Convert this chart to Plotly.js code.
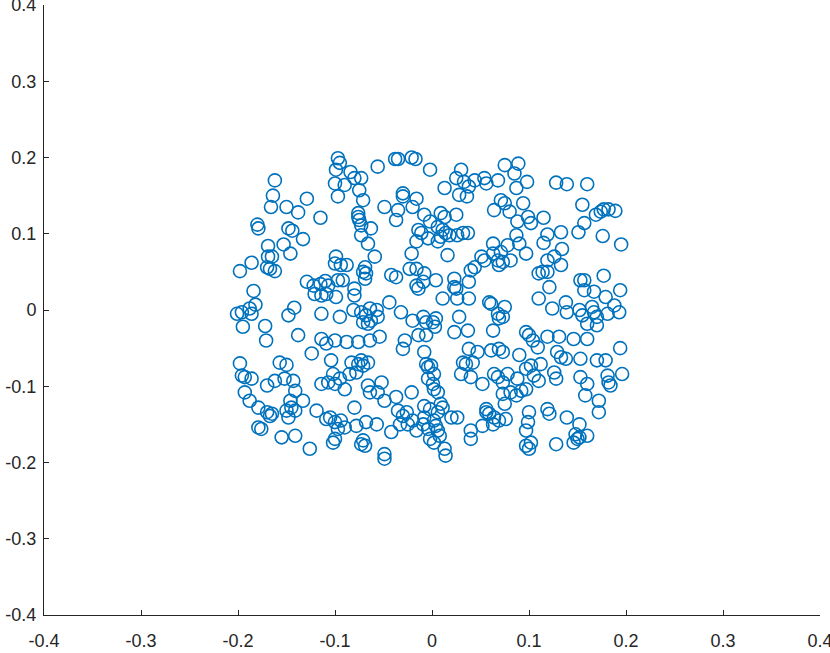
<!DOCTYPE html>
<html>
<head>
<meta charset="utf-8">
<script src="https://cdn.plot.ly/plotly-3.0.1.min.js"></script>
<style>html,body{margin:0;padding:0;background:#fff;}#chart{width:830px;height:653px;}</style>
</head>
<body>
<div id="chart"></div>
<script>
var xValues = [
-0.162,-0.164,-0.166,-0.150,-0.138,-0.129,-0.115,-0.180,-0.179,-0.148,-0.144,-0.133,-0.169,-0.153,
-0.097,-0.095,-0.099,-0.084,-0.100,-0.090,-0.080,-0.073,-0.075,-0.097,-0.071,-0.056,-0.038,-0.035,-0.021,-0.017,-0.002,-0.030,-0.030,-0.016,-0.049,-0.035,-0.020,-0.008,-0.037,-0.002,-0.076,-0.076,-0.075,-0.073,-0.063,-0.073,-0.066,-0.014,-0.011,-0.004,-0.016,
0.030,0.025,0.033,0.044,0.054,0.056,0.068,0.075,0.089,0.085,0.098,0.087,0.013,0.028,0.036,0.038,0.071,0.064,0.075,0.080,0.094,0.088,0.099,0.102,0.009,0.013,0.025,0.006,0.011,0.014,0.009,0.018,0.026,0.032,0.037,0.006,0.087,0.090,0.078,0.063,0.071,
0.128,0.139,0.160,0.155,0.169,0.174,0.177,0.182,0.189,0.115,0.157,0.119,0.133,0.151,0.115,0.176,0.195,0.134,
-0.198,-0.186,-0.169,-0.165,-0.170,-0.167,-0.162,-0.146,-0.184,-0.201,-0.196,-0.188,-0.182,-0.186,-0.195,-0.172,-0.171,-0.148,-0.142,-0.138,-0.114,-0.129,-0.122,-0.115,-0.110,-0.107,-0.121,-0.114,-0.109,-0.114,-0.124,-0.109,
-0.099,-0.094,-0.088,-0.100,-0.069,-0.068,-0.071,-0.069,-0.059,-0.042,-0.037,-0.021,-0.023,-0.016,-0.008,-0.009,-0.016,-0.014,-0.097,-0.092,-0.080,-0.080,-0.099,-0.095,-0.081,-0.073,-0.064,-0.057,-0.056,-0.068,-0.071,-0.063,-0.066,-0.044,-0.032,-0.020,-0.009,-0.006,-0.006,-0.014,0.003,-0.028,-0.030,-0.008,-0.100,-0.088,-0.076,-0.064,-0.054,
0.016,0.051,0.054,0.063,0.068,0.073,0.081,0.097,0.044,0.040,0.069,0.004,0.023,0.023,0.025,0.038,0.011,0.026,0.038,0.059,0.061,0.075,0.068,0.073,0.069,0.004,0.001,0.028,0.023,0.037,0.063,0.097,0.100,0.104,0.038,0.047,0.061,0.069,0.073,0.090,
0.119,0.126,0.114,0.119,0.133,0.110,0.153,0.157,0.177,0.121,0.157,0.167,0.179,0.194,0.110,0.124,0.138,0.139,0.152,0.155,0.165,0.167,0.170,0.181,0.188,0.193,0.160,0.170,0.119,0.131,0.146,0.160,0.109,0.194,0.129,0.133,0.138,0.153,0.170,0.179,
-0.198,-0.157,-0.150,-0.196,-0.193,-0.186,-0.170,-0.162,-0.152,-0.143,-0.114,-0.107,-0.193,-0.141,-0.188,-0.179,-0.170,-0.167,-0.165,-0.146,-0.133,-0.145,-0.150,-0.141,-0.148,-0.119,-0.109,-0.179,-0.176,-0.155,-0.141,-0.126,
-0.104,-0.102,-0.095,-0.090,-0.100,-0.083,-0.076,-0.071,-0.066,-0.073,-0.085,-0.078,-0.066,-0.064,-0.052,-0.056,-0.049,-0.037,-0.021,-0.006,-0.004,-0.004,-0.080,-0.105,-0.100,-0.094,-0.090,-0.097,-0.100,-0.102,-0.078,-0.068,-0.057,-0.035,-0.030,-0.026,-0.033,-0.025,-0.020,-0.016,-0.008,-0.008,-0.002,-0.009,-0.004,-0.042,-0.071,-0.073,-0.069,-0.049,-0.049,-0.002,
-0.001,0.002,0.001,0.002,0.006,0.032,0.035,0.042,0.030,0.040,0.052,0.064,0.068,0.073,0.078,0.088,0.097,0.102,0.105,0.097,0.092,0.073,0.081,0.087,0.075,0.009,0.011,0.006,0.020,0.026,0.056,0.056,0.059,0.064,0.069,0.076,0.063,0.002,0.004,0.006,0.008,0.002,0.040,0.040,0.052,0.100,0.099,0.097,0.097,0.100,0.102,0.013,0.014,
0.112,0.126,0.128,0.110,0.153,0.160,0.158,0.172,0.172,0.181,0.182,0.184,0.196,0.119,0.121,0.139,0.152,0.148,0.152,0.160,0.146,0.150,0.128
];
var yValues = [
0.170,0.150,0.135,0.135,0.128,0.146,0.121,0.112,0.107,0.107,0.104,0.093,0.084,0.086,
0.199,0.193,0.184,0.181,0.166,0.164,0.173,0.173,0.157,0.149,0.144,0.188,0.198,0.198,0.200,0.198,0.184,0.153,0.149,0.146,0.135,0.131,0.135,0.125,0.118,0.116,0.127,0.122,0.118,0.111,0.107,0.098,0.087,0.105,0.101,0.094,0.090,
0.184,0.173,0.168,0.170,0.173,0.166,0.170,0.190,0.192,0.179,0.168,0.160,0.160,0.151,0.149,0.162,0.144,0.131,0.140,0.129,0.140,0.116,0.122,0.114,0.127,0.122,0.125,0.109,0.105,0.101,0.096,0.098,0.098,0.101,0.101,0.090,0.098,0.087,0.085,0.087,0.076,
0.167,0.165,0.165,0.138,0.125,0.129,0.132,0.132,0.130,0.121,0.114,0.099,0.102,0.102,0.088,0.097,0.086,0.080,
0.051,0.062,0.070,0.070,0.056,0.054,0.051,0.074,0.025,-0.005,-0.003,0.002,0.007,-0.005,-0.022,-0.021,-0.040,-0.007,0.003,-0.033,-0.005,0.037,0.032,0.034,0.038,0.032,0.021,0.019,0.021,-0.038,-0.057,-0.044,
0.070,0.059,0.059,0.061,0.056,0.048,0.050,0.041,0.070,0.046,0.043,0.074,0.054,0.054,0.048,0.037,0.032,0.028,0.039,0.039,0.028,0.019,0.017,-0.009,0.000,-0.003,0.002,0.000,-0.009,-0.007,-0.016,-0.014,-0.018,0.010,-0.003,-0.014,-0.009,-0.016,-0.033,-0.033,-0.022,-0.040,-0.051,-0.055,-0.040,-0.042,-0.042,-0.040,-0.035,
0.072,0.070,0.065,0.074,0.065,0.063,0.065,0.074,0.056,0.052,0.059,0.039,0.041,0.030,0.028,0.037,0.015,0.015,0.015,0.010,0.008,0.004,-0.005,-0.009,-0.011,-0.011,-0.016,-0.009,-0.029,-0.027,-0.027,-0.029,-0.033,-0.040,-0.051,-0.055,-0.053,-0.051,-0.055,-0.059,
0.065,0.070,0.050,0.050,0.059,0.048,0.039,0.039,0.045,0.030,0.026,0.024,0.017,0.026,0.015,0.002,0.010,-0.003,0.000,-0.007,0.004,-0.003,-0.009,-0.005,0.006,-0.003,-0.018,-0.020,-0.035,-0.035,-0.038,-0.038,-0.049,-0.050,-0.055,-0.062,-0.064,-0.064,-0.066,-0.066,
-0.070,-0.069,-0.072,-0.086,-0.088,-0.090,-0.099,-0.093,-0.090,-0.093,-0.097,-0.095,-0.108,-0.106,-0.119,-0.128,-0.134,-0.139,-0.136,-0.119,-0.119,-0.128,-0.132,-0.132,-0.141,-0.132,-0.143,-0.154,-0.156,-0.167,-0.165,-0.182,
-0.066,-0.084,-0.090,-0.104,-0.097,-0.069,-0.071,-0.073,-0.069,-0.066,-0.084,-0.082,-0.099,-0.108,-0.095,-0.108,-0.119,-0.114,-0.108,-0.071,-0.075,-0.090,-0.128,-0.141,-0.147,-0.145,-0.154,-0.156,-0.169,-0.174,-0.152,-0.147,-0.150,-0.132,-0.139,-0.134,-0.150,-0.150,-0.145,-0.158,-0.126,-0.141,-0.130,-0.150,-0.156,-0.160,-0.171,-0.176,-0.178,-0.189,-0.195,-0.169,
-0.073,-0.084,-0.097,-0.104,-0.108,-0.069,-0.071,-0.069,-0.084,-0.088,-0.097,-0.084,-0.088,-0.095,-0.084,-0.090,-0.077,-0.073,-0.086,-0.104,-0.106,-0.110,-0.108,-0.112,-0.123,-0.123,-0.128,-0.134,-0.141,-0.141,-0.130,-0.134,-0.136,-0.141,-0.145,-0.143,-0.150,-0.145,-0.152,-0.158,-0.165,-0.174,-0.158,-0.169,-0.152,-0.134,-0.147,-0.158,-0.178,-0.182,-0.174,-0.182,-0.191,
-0.071,-0.082,-0.090,-0.093,-0.088,-0.097,-0.112,-0.119,-0.134,-0.086,-0.095,-0.099,-0.084,-0.130,-0.136,-0.141,-0.150,-0.163,-0.167,-0.165,-0.174,-0.169,-0.176
];
var tickVals = [-0.4,-0.3,-0.2,-0.1,0,0.1,0.2,0.3,0.4];
var tickText = ['-0.4','-0.3','-0.2','-0.1','0','0.1','0.2','0.3','0.4'];

var axisCommon = {
  range: [-0.4, 0.4],
  tickmode: 'array',
  tickvals: tickVals,
  ticktext: tickText,
  ticks: 'inside',
  ticklen: 5,
  tickwidth: 1,
  tickcolor: '#262626',
  showline: true,
  linecolor: '#262626',
  linewidth: 1,
  mirror: false,
  showgrid: false,
  zeroline: false,
  ticklabeloverflow: 'allow',
  tickfont: {family: 'Liberation Sans, Arial, sans-serif', size: 18, color: '#262626'}
};
var xaxis = Object.assign({}, axisCommon, {ticklabelstandoff: 9});
var yaxis = Object.assign({}, axisCommon, {ticklabelstandoff: 3});

Plotly.newPlot('chart', [{
  x: xValues,
  y: yValues,
  type: 'scatter',
  mode: 'markers',
  marker: {symbol: 'circle-open', size: 13, color: '#0072BD', line: {width: 1.6, color: '#0072BD'}},
  hoverinfo: 'skip',
  cliponaxis: false
}], {
  width: 830,
  height: 653,
  margin: {l: 44, r: 10, t: 5, b: 38},
  paper_bgcolor: '#ffffff',
  plot_bgcolor: '#ffffff',
  showlegend: false,
  xaxis: xaxis,
  yaxis: yaxis
}, {displayModeBar: false, staticPlot: true});
</script>
</body>
</html>
